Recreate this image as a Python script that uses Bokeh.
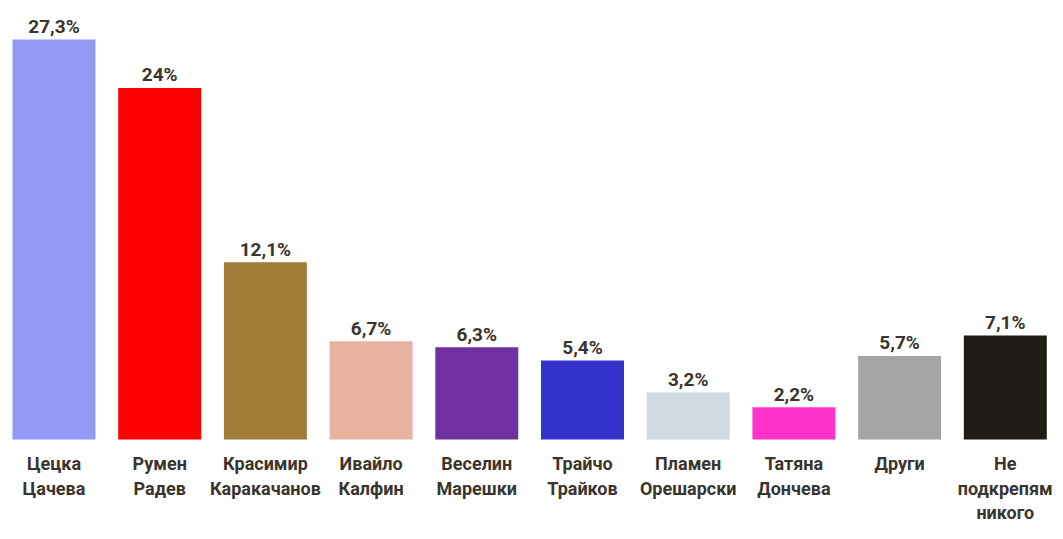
from bokeh.plotting import figure
from bokeh.models import ColumnDataSource, Range1d
from bokeh.core.properties import value
from bokeh.embed import file_html
from bokeh.resources import INLINE

categories = ["Цецка\nЦачева", "Румен\nРадев", "Красимир\nКаракачанов", "Ивайло\nКалфин",
              "Веселин\nМарешки", "Трайчо\nТрайков", "Пламен\nОрешарски", "Татяна\nДончева",
              "Други", "Не\nподкрепям\nникого"]
values = [27.3, 24.0, 12.1, 6.7, 6.3, 5.4, 3.2, 2.2, 5.7, 7.1]
value_labels = ["27,3%", "24%", "12,1%", "6,7%", "6,3%", "5,4%", "3,2%", "2,2%", "5,7%", "7,1%"]
colors = ["#9599f6", "#ff0000", "#a07c37", "#e8b2a0", "#7030a0", "#3333cc",
          "#cfdae2", "#ff33cc", "#a6a6a6", "#201c18"]

FONT = value("Roboto")
TXT = "#3a342e"

xs = list(range(len(categories)))
src = ColumnDataSource(dict(x=xs, top=values, color=colors, lab=value_labels))

p = figure(width=1056, height=532, output_backend="svg", toolbar_location=None,
           x_range=Range1d(-0.5061, 9.4844), y_range=Range1d(-6.348, 29.966),
           min_border=0, outline_line_color=None)
p.axis.visible = False
p.grid.visible = False
p.background_fill_color = "white"
p.border_fill_color = "white"

p.vbar(x="x", top="top", bottom=0, width=0.785, color="color", line_color=None, source=src)
p.text(x="x", y="top", text="lab", source=src, text_align="center", text_baseline="middle",
       y_offset=-13, text_font=FONT, text_font_style="bold", text_font_size="19px", text_color=TXT)

lx, ly, lt, lo = [], [], [], []
for i, c in enumerate(categories):
    for j, line in enumerate(c.split("\n")):
        lx.append(i)
        ly.append(0)
        lt.append(line)
        lo.append(24 + 24.5 * j)
lsrc = ColumnDataSource(dict(x=lx, y=ly, t=lt, o=lo))
p.text(x="x", y="y", text="t", y_offset="o", source=lsrc, text_align="center",
       text_baseline="middle", text_font=FONT, text_font_style="bold",
       text_font_size="18px", text_color=TXT)

open("out.html", "w").write(file_html(p, INLINE))
